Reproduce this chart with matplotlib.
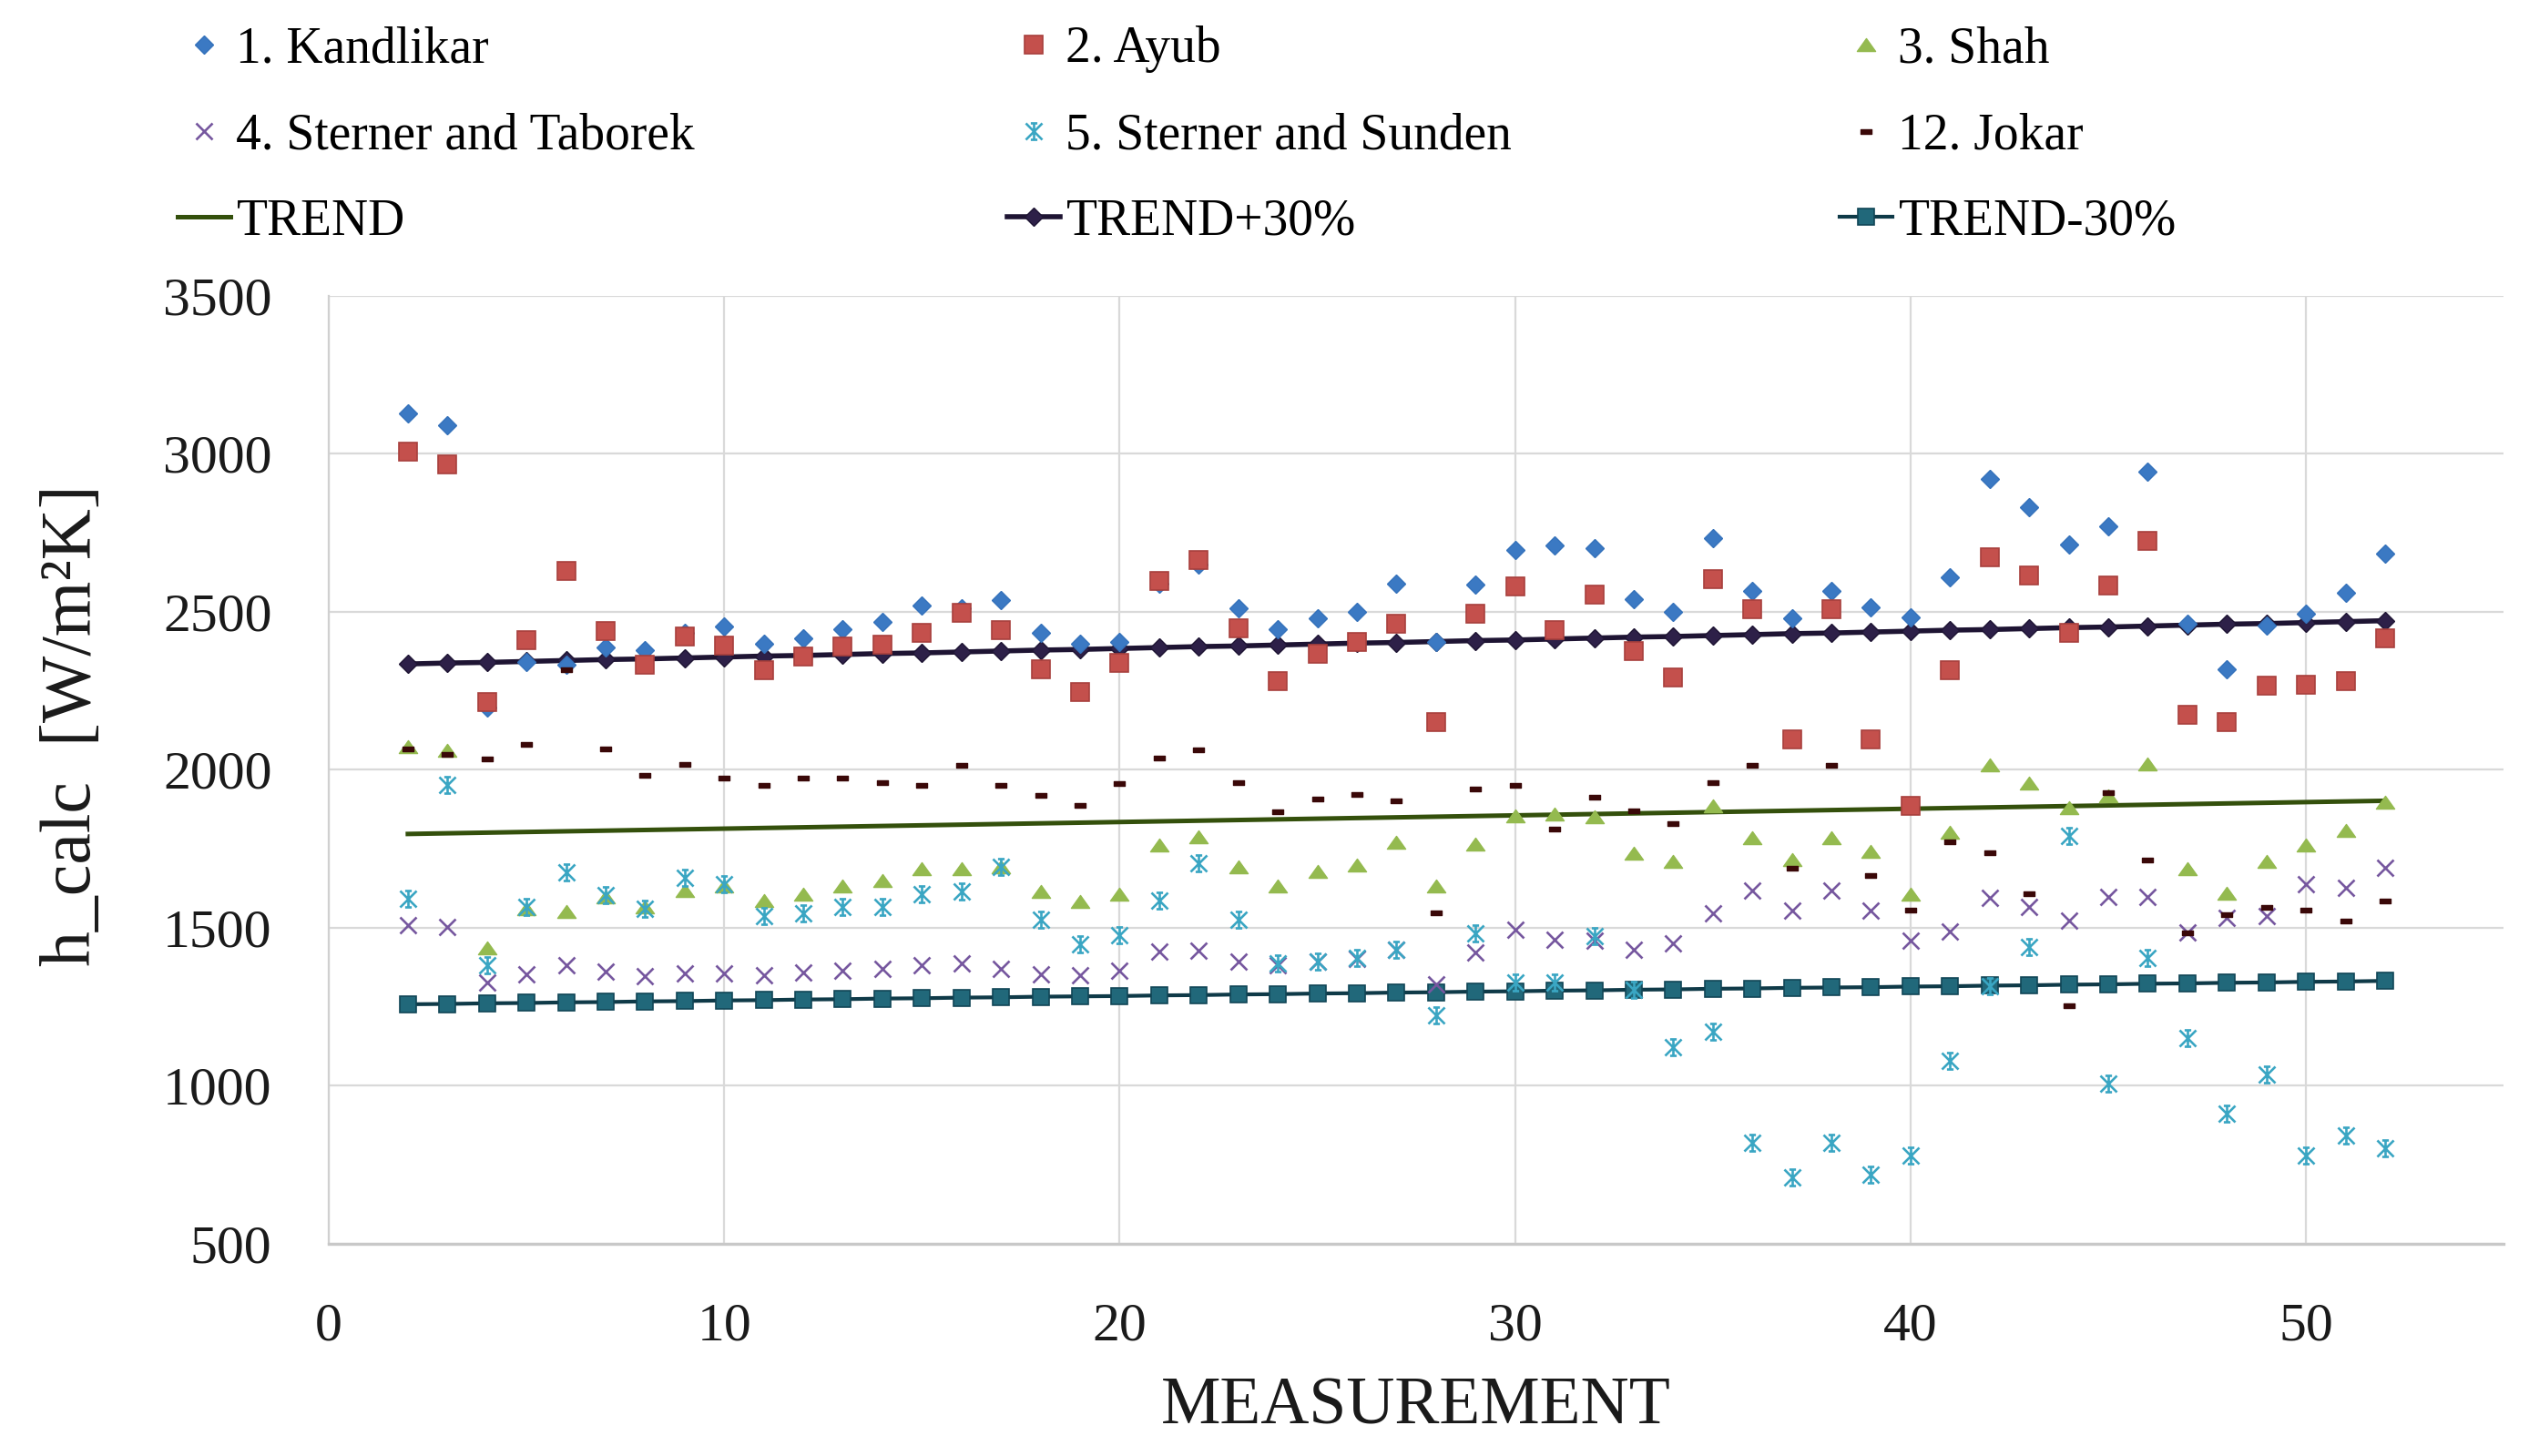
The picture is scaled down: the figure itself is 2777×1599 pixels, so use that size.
import matplotlib
matplotlib.use('Agg')
import matplotlib.pyplot as plt
from matplotlib.path import Path

plt.rcParams['font.family'] = ['Liberation Serif', 'DejaVu Serif']

# measurement numbers
meas = list(range(2, 53))

# h_calc values, W/m2K
kandlikar = [3128, 3091, 2195, 2341, 2332, 2385, 2377, 2433, 2454, 2399,
             2416, 2445, 2468, 2519, 2510, 2537, 2432, 2399, 2404, 2587,
             2649, 2510, 2444, 2478, 2500, 2589, 2404, 2584, 2695, 2710,
             2700, 2538, 2500, 2733, 2565, 2479, 2565, 2514, 2481, 2608,
             2920, 2829, 2713, 2769, 2942, 2462, 2317, 2457, 2493, 2560,
             2683]
ayub = [3005, 2966, 2213, 2409, 2628, 2437, 2332, 2421, 2392, 2314,
        2359, 2389, 2396, 2433, 2497, 2442, 2317, 2245, 2337, 2596,
        2663, 2447, 2279, 2367, 2404, 2460, 2150, 2492, 2579, 2440,
        2553, 2375, 2290, 2602, 2506, 2096, 2506, 2096, 1884, 2313,
        2673, 2613, 2433, 2582, 2723, 2174, 2150, 2266, 2269, 2279,
        2415]
shah = [2072, 2060, 1435, 1558, 1552, 1596, 1566, 1617, 1632, 1584,
        1606, 1630, 1650, 1686, 1686, 1692, 1614, 1581, 1605, 1760,
        1788, 1692, 1632, 1677, 1698, 1770, 1632, 1764, 1854, 1860,
        1851, 1734, 1710, 1884, 1784, 1716, 1784, 1740, 1605, 1800,
        2016, 1956, 1880, 1916, 2018, 1686, 1608, 1710, 1760, 1808,
        1896]
taborek = [1507, 1501, 1327, 1353, 1381, 1360, 1345, 1354, 1354, 1348,
           1357, 1363, 1369, 1381, 1387, 1369, 1353, 1348, 1363, 1425,
           1426, 1393, 1381, 1393, 1401, 1429, 1321, 1420, 1492, 1461,
           1458, 1429, 1449, 1545, 1617, 1554, 1617, 1554, 1458, 1488,
           1593, 1566, 1521, 1596, 1596, 1483, 1531, 1537, 1638, 1626,
           1690]
sunden = [1590, 1952, 1381, 1566, 1674, 1602, 1560, 1656, 1638, 1537,
          1545, 1564, 1566, 1605, 1614, 1692, 1525, 1447, 1477, 1584,
          1704, 1525, 1387, 1393, 1405, 1429, 1222, 1482, 1327, 1327,
          1473, 1303, 1120, 1169, 818, 710, 818, 719, 778, 1078,
          1315, 1437, 1790, 1006, 1405, 1150, 910, 1034, 778, 842,
          800]
jokar = [2067, 2049, 2036, 2081, 2317, 2066, 1983, 2018, 1975, 1950,
         1974, 1974, 1959, 1950, 2016, 1952, 1920, 1887, 1956, 2037,
         2063, 1959, 1868, 1908, 1923, 1903, 1549, 1941, 1952, 1812,
         1914, 1871, 1830, 1959, 2016, 1689, 2016, 1666, 1557, 1773,
         1737, 1608, 1255, 1928, 1714, 1483, 1543, 1566, 1557, 1521,
         1584]

# trend line (end points) and the +-30% bands
trend_x = [2, 52]
trend_y = [1796, 1901]
trend_p30 = [2334, 2337, 2339, 2342, 2345, 2348, 2350, 2353, 2356, 2359,
             2361, 2364, 2367, 2369, 2372, 2375, 2378, 2380, 2383, 2386,
             2389, 2391, 2394, 2397, 2400, 2402, 2405, 2408, 2410, 2413,
             2416, 2419, 2421, 2424, 2427, 2430, 2432, 2435, 2438, 2441,
             2443, 2446, 2449, 2451, 2454, 2457, 2460, 2462, 2465, 2468,
             2471]
trend_m30 = [1257, 1258, 1260, 1261, 1263, 1264, 1266, 1267, 1269, 1270,
             1272, 1273, 1275, 1276, 1278, 1279, 1281, 1282, 1283, 1285,
             1286, 1288, 1289, 1291, 1292, 1294, 1295, 1297, 1298, 1300,
             1301, 1303, 1304, 1306, 1307, 1309, 1310, 1311, 1313, 1314,
             1316, 1317, 1319, 1320, 1322, 1323, 1325, 1326, 1328, 1329,
             1331]

# excel-like markers
tri = Path([(-1, -0.7), (1, -0.7), (0, 0.7), (-1, -0.7)],
           [Path.MOVETO, Path.LINETO, Path.LINETO, Path.CLOSEPOLY])
dash = Path([(-1, -0.4), (1, -0.4), (1, 0.4), (-1, 0.4), (-1, -0.4)],
            [Path.MOVETO, Path.LINETO, Path.LINETO, Path.LINETO, Path.CLOSEPOLY])
star = Path([(-1, -1), (1, 1), (-1, 1), (1, -1), (0, -1), (0, 1),
             (-0.4, 1), (0.4, 1), (-0.4, -1), (0.4, -1)],
            [Path.MOVETO, Path.LINETO] * 5)

fig = plt.figure(figsize=(27.77, 15.99), dpi=100)
ax = fig.add_axes([0.130, 0.146, 0.860, 0.651])

# lines under the points
l_tr, = ax.plot(trend_x, trend_y, color='#34500c', lw=3.6, zorder=2)
l_p30, = ax.plot(meas, trend_p30, color='#1e1433', lw=4.0, marker='D', ms=10,
                 mfc='#2d2048', mec='#1e1433', zorder=2)
l_m30, = ax.plot(meas, trend_m30, color='#0f3a48', lw=3.0, marker='s', ms=12.5,
                 mfc='#21687a', mec='#114656', mew=1.2, zorder=2)

h1, = ax.plot(meas, kandlikar, ls='none', marker='D', ms=10, mfc='#3b79c3', mec='#3572bb', zorder=3)
h2, = ax.plot(meas, ayub, ls='none', marker='s', ms=14, mfc='#c4504c', mec='#a8403d', mew=1.2, zorder=3)
h3, = ax.plot(meas, shah, ls='none', marker=tri, ms=14.5, mfc='#94ba4f', mec='#94ba4f', zorder=3)
h4, = ax.plot(meas, taborek, ls='none', marker='x', ms=12.5, mew=1.9, color='#76579f', zorder=3)
h5, = ax.plot(meas, sunden, ls='none', marker=star, ms=13, mew=1.9, mfc='none', mec='#3aa6c3', zorder=3)
h6, = ax.plot(meas, jokar, ls='none', marker=dash, ms=9, mfc='#3a0808', mec='#3a0808', zorder=3)

ax.set_xlim(0, 55)
ax.set_ylim(500, 3500)
ax.set_xticks([0, 10, 20, 30, 40, 50])
ax.set_yticks([500, 1000, 1500, 2000, 2500, 3000, 3500])
ax.grid(True, color='#d9d9d9', lw=1.6)
ax.set_axisbelow(True)
for s in ['top', 'right']:
    ax.spines[s].set_visible(False)
ax.spines['left'].set_color('#d0d0d0')
ax.spines['left'].set_linewidth(1.6)
ax.spines['bottom'].set_color('#c8c8c8')
ax.spines['bottom'].set_linewidth(2.4)
ax.tick_params(length=0, labelsize=43, colors='#1a1a1a')
ax.tick_params(axis='y', pad=45)
ax.tick_params(axis='x', pad=47)

fig.text(80 / 2777, 1 - 797 / 1599, 'h_calc  [W/m²K]', rotation=90,
         ha='center', va='center', fontsize=56, color='#1a1a1a')
fig.text(1555 / 2777, 1 - 1546 / 1599, 'MEASUREMENT',
         ha='center', va='center', fontsize=53, color='#1a1a1a')

# legend: three columns placed by hand
cols = [([h1, h4, l_tr], ['1. Kandlikar', '4. Sterner and Taborek', 'TREND'], 195),
        ([h2, h5, l_p30], ['2. Ayub', '5. Sterner and Sunden', 'TREND+30%'], 1106),
        ([h3, h6, l_m30], ['3. Shah', '12. Jokar', 'TREND-30%'], 2020)]
for hs, ls, xpix in cols:
    fig.legend(hs, ls, loc='center left', bbox_to_anchor=(xpix / 2777, 1 - 149 / 1599),
               frameon=False, fontsize=40, handlelength=1.04, handletextpad=0.12,
               borderpad=0, borderaxespad=0, labelspacing=0.77, numpoints=1)

fig.savefig('out.png', dpi=100)
